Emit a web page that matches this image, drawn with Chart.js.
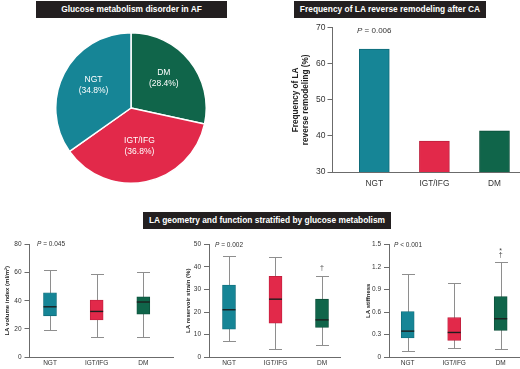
<!DOCTYPE html>
<html>
<head>
<meta charset="utf-8">
<script src="https://cdn.jsdelivr.net/npm/chart.js@4.4.1/dist/chart.umd.min.js"></script>
<style>
    body { margin: 0; width: 520px; height: 369px; position: relative; overflow: hidden; background: #fff;
           font-family: "Liberation Sans", Arial, sans-serif; }
    .panel { position: absolute; }
    .head { position: absolute; background: #231f20; color: #fff; font-weight: bold; font-size: 8.4px;
            text-align: center; height: 17px; line-height: 17px; white-space: nowrap; }
    .pval { position: absolute; color: #333; white-space: nowrap; line-height: 1; }
</style>
</head>
<body>

<div class="head" style="left:36px; top:1px; width:191px;">Glucose metabolism disorder in AF</div>
<div class="head" style="left:294px; top:1px; width:192px;">Frequency of LA reverse remodeling after CA</div>
<div class="head" style="left:143px; top:212px; width:248px;">LA geometry and function stratified by glucose metabolism</div>

<div class="panel" style="left:55px; top:32px; width:152px; height:152px;"><canvas id="pieChart"></canvas></div>
<div class="panel" style="left:260px; top:20px; width:260px; height:180px;"><canvas id="remodelChart"></canvas></div>
<div class="panel" style="left:0px; top:236px; width:176px; height:133px;"><canvas id="laviChart"></canvas></div>
<div class="panel" style="left:176px; top:236px; width:166px; height:133px;"><canvas id="strainChart"></canvas></div>
<div class="panel" style="left:342px; top:236px; width:178px; height:133px;"><canvas id="stiffChart"></canvas></div>

<div class="pval" style="left:357px; top:27px; font-size:8px;"><i>P</i> = 0.006</div>
<div class="pval" style="left:37px; top:241px; font-size:6.5px;"><i>P</i> = 0.045</div>
<div class="pval" style="left:215px; top:242px; font-size:6.5px;"><i>P</i> = 0.002</div>
<div class="pval" style="left:394px; top:242px; font-size:6.5px;"><i>P</i> &lt; 0.001</div>

<script>
// Groups and colours
var groups = ['NGT', 'IGT/IFG', 'DM'];
var fills = ['#168596', '#e2294a', '#10654a'];
var edges = ['#0f6b79', '#bd1f3c', '#0b4e39'];

// Glucose metabolism disorder in AF (clockwise from 12 o'clock)
var pieLabels = ['DM', 'IGT/IFG', 'NGT'];
var piePct = [28.4, 36.8, 34.8];
var pieFills = ['#10654a', '#e2294a', '#168596'];

// Frequency of LA reverse remodeling after CA (%)
var remodelPct = [64.1, 38.6, 41.4];
var remodelTicks = [30, 40, 50, 60, 70];

// LA volume index (ml/m2)
var laviMin = [18.9, 14.0, 14.0];
var laviQ1 = [29.3, 26.3, 30.5];
var laviMed = [35.7, 32.4, 39.1];
var laviQ3 = [45.7, 40.5, 42.8];
var laviMax = [62.2, 58.9, 60.8];
var laviTicks = [0, 20, 40, 60, 80];

// LA reservoir strain (%)
var strainMin = [7.3, 3.4, 5.5];
var strainQ1 = [12.4, 15.0, 13.1];
var strainMed = [21.0, 25.7, 16.5];
var strainQ3 = [32.0, 35.9, 25.7];
var strainMax = [44.9, 44.5, 36.2];
var strainTicks = [0, 10, 20, 30, 40, 50];
var strainMarks = [[], [], ['†']];

// LA stiffness
var stiffMin = [0.085, 0.125, 0.107];
var stiffQ1 = [0.255, 0.22, 0.354];
var stiffMed = [0.345, 0.327, 0.51];
var stiffQ3 = [0.605, 0.524, 0.806];
var stiffMax = [1.11, 0.985, 1.263];
var stiffTicks = [0, 0.3, 0.6, 0.9, 1.2, 1.5];
var stiffMarks = [[], [], ['†', '*']];

Chart.defaults.font.family = '"Liberation Sans", Arial, sans-serif';
Chart.defaults.color = '#333';

var axisColor = '#6b6b6b';

function fixedTicks(list) {
    return function (scale) {
        scale.ticks = list.map(function (v) { return { value: v }; });
    };
}

function groupLabel(v) {
    return groups[v - 1];
}

// Pie with labels inside slices
var pieLabelPlugin = {
    id: 'pieLabels',
    afterDatasetsDraw: function (chart) {
        var ctx = chart.ctx;
        var arcs = chart.getDatasetMeta(0).data;
        ctx.save();
        ctx.fillStyle = '#fff';
        ctx.font = '8.5px "Liberation Sans", Arial, sans-serif';
        ctx.textAlign = 'center';
        ctx.textBaseline = 'middle';
        arcs.forEach(function (arc, i) {
            var mid = (arc.startAngle + arc.endAngle) / 2;
            var r = arc.outerRadius * 0.56;
            var x = arc.x + Math.cos(mid) * r;
            var y = arc.y + Math.sin(mid) * r - 3;
            ctx.fillText(pieLabels[i], x, y - 5.5);
            ctx.fillText('(' + piePct[i].toFixed(1) + '%)', x, y + 5.5);
        });
        ctx.restore();
    }
};

new Chart(document.getElementById('pieChart'), {
    type: 'pie',
    data: {
        labels: pieLabels,
        datasets: [{
            data: piePct,
            backgroundColor: pieFills,
            borderColor: '#fff',
            borderWidth: 1.5
        }]
    },
    options: {
        responsive: true,
        maintainAspectRatio: false,
        animation: false,
        events: [],
        layout: { padding: 0 },
        plugins: { legend: { display: false }, tooltip: { enabled: false } }
    },
    plugins: [pieLabelPlugin]
});

// Bar chart
new Chart(document.getElementById('remodelChart'), {
    type: 'bar',
    data: {
        datasets: [{
            data: remodelPct.map(function (v, i) { return { x: i + 1, y: v }; }),
            backgroundColor: fills,
            borderColor: edges,
            borderWidth: 1,
            barThickness: 30
        }]
    },
    options: {
        responsive: true,
        maintainAspectRatio: false,
        animation: false,
        events: [],
        layout: { padding: { top: 7.7, right: 1, left: 0, bottom: 0 } },
        plugins: { legend: { display: false }, tooltip: { enabled: false } },
        scales: {
            x: {
                type: 'linear',
                offset: false,
                min: 0.304,
                max: 3.408,
                afterBuildTicks: fixedTicks([1, 2, 3]),
                afterFit: function (s) { s.height = 28; },
                grid: { display: false, drawTicks: false, offset: false },
                border: { color: axisColor, width: 1 },
                ticks: { callback: groupLabel, font: { size: 8.3 }, padding: 6.3, color: '#333', maxRotation: 0 }
            },
            y: {
                min: 30,
                max: 70,
                afterBuildTicks: fixedTicks(remodelTicks),
                afterFit: function (s) { s.width = 72.5; },
                grid: { drawOnChartArea: false, color: axisColor, tickLength: 5 },
                border: { color: axisColor, width: 1 },
                ticks: { font: { size: 8.5 }, padding: 2, color: '#333' },
                title: {
                    display: true,
                    text: ['Frequency of LA', 'reverse remodeling (%)'],
                    font: { size: 8.2, weight: 'bold', lineHeight: 1.2 },
                    color: '#222',
                    padding: { top: 30.5, bottom: 0 }
                }
            }
        }
    }
});

// Box plots: box is a floating bar, whiskers and medians drawn on the library scales
function boxPlugin(stats) {
    return {
        id: 'boxParts',
        beforeDatasetsDraw: function (chart) {
            var ctx = chart.ctx, xs = chart.scales.x, ys = chart.scales.y;
            ctx.save();
            ctx.strokeStyle = '#8e8e8e';
            ctx.lineWidth = 1;
            stats.min.forEach(function (lo, i) {
                var cx = Math.round(xs.getPixelForValue(i + 1)) + 0.5;
                var top = Math.round(ys.getPixelForValue(stats.max[i])) + 0.5;
                var bot = Math.round(ys.getPixelForValue(lo)) + 0.5;
                ctx.beginPath();
                ctx.moveTo(cx, top); ctx.lineTo(cx, bot);
                ctx.moveTo(cx - 6.5, top); ctx.lineTo(cx + 6.5, top);
                ctx.moveTo(cx - 6.5, bot); ctx.lineTo(cx + 6.5, bot);
                ctx.stroke();
            });
            ctx.restore();
        },
        afterDatasetsDraw: function (chart) {
            var ctx = chart.ctx, xs = chart.scales.x, ys = chart.scales.y;
            ctx.save();
            ctx.strokeStyle = '#1e1e1e';
            ctx.lineWidth = 1.4;
            stats.med.forEach(function (m, i) {
                var cx = xs.getPixelForValue(i + 1);
                var y = ys.getPixelForValue(m);
                ctx.beginPath();
                ctx.moveTo(cx - 6.5, y); ctx.lineTo(cx + 6.5, y);
                ctx.stroke();
            });
            ctx.fillStyle = '#444';
            ctx.font = '7px "Liberation Sans", Arial, sans-serif';
            ctx.textAlign = 'center';
            ctx.textBaseline = 'middle';
            (stats.marks || []).forEach(function (list, i) {
                var cx = xs.getPixelForValue(i + 1);
                var top = ys.getPixelForValue(stats.max[i]);
                list.forEach(function (sym, k) {
                    ctx.fillText(sym, cx, top - 7 - k * 6.5 + (sym === '*' ? 2 : 0));
                });
            });
            ctx.restore();
        }
    };
}

function makeBoxChart(id, o) {
    return new Chart(document.getElementById(id), {
        type: 'bar',
        data: {
            datasets: [{
                data: o.q1.map(function (v, i) { return { x: i + 1, y: [v, o.q3[i]] }; }),
                backgroundColor: fills,
                borderColor: edges,
                borderWidth: 0.8,
                borderSkipped: false,
                barThickness: 13
            }]
        },
        options: {
            responsive: true,
            maintainAspectRatio: false,
            animation: false,
            events: [],
            layout: { padding: { top: 8.5, right: o.padRight, left: 0, bottom: 0 } },
            plugins: { legend: { display: false }, tooltip: { enabled: false } },
            scales: {
                x: {
                    type: 'linear',
                    offset: false,
                    min: o.xMin,
                    max: o.xMax,
                    afterBuildTicks: fixedTicks([1, 2, 3]),
                    afterFit: function (s) { s.height = 12; },
                    grid: { display: false, drawTicks: false, offset: false },
                    border: { color: axisColor, width: 1 },
                    ticks: { callback: groupLabel, font: { size: 6.5 }, padding: 2.5, color: '#333', maxRotation: 0 }
                },
                y: {
                    min: o.yTicks[0],
                    max: o.yTicks[o.yTicks.length - 1],
                    afterBuildTicks: fixedTicks(o.yTicks),
                    afterFit: function (s) { s.width = o.yWidth; },
                    grid: { drawOnChartArea: false, color: axisColor, tickLength: 5 },
                    border: { color: axisColor, width: 1 },
                    ticks: { font: { size: 6.5 }, padding: 3, color: '#333', callback: o.tickFmt },
                    title: {
                        display: true,
                        text: o.title,
                        font: { size: 6, weight: 'bold', lineHeight: 1.2 },
                        color: '#222',
                        padding: { top: o.titlePad, bottom: 0 }
                    }
                }
            }
        },
        plugins: [boxPlugin({ min: o.min, med: o.med, max: o.max, marks: o.marks })]
    });
}

makeBoxChart('laviChart', {
    q1: laviQ1, q3: laviQ3, min: laviMin, med: laviMed, max: laviMax, marks: [],
    yTicks: laviTicks, title: 'LA volume index (ml/m²)',
    xMin: 0.561, xMax: 3.636, yWidth: 29.5, titlePad: 3.4, padRight: 3
});

makeBoxChart('strainChart', {
    q1: strainQ1, q3: strainQ3, min: strainMin, med: strainMed, max: strainMax, marks: strainMarks,
    yTicks: strainTicks, title: 'LA reservoir strain (%)',
    xMin: 0.570, xMax: 3.387, yWidth: 33, titlePad: 8.4, padRight: 2
});

makeBoxChart('stiffChart', {
    q1: stiffQ1, q3: stiffQ3, min: stiffMin, med: stiffMed, max: stiffMax, marks: stiffMarks,
    yTicks: stiffTicks, title: 'LA stiffness',
    xMin: 0.598, xMax: 3.394, yWidth: 47, titlePad: 22.4, padRight: 1,
    tickFmt: function (v) { return v === 0 ? '0' : v.toFixed(1); }
});
</script>
</body>
</html>
